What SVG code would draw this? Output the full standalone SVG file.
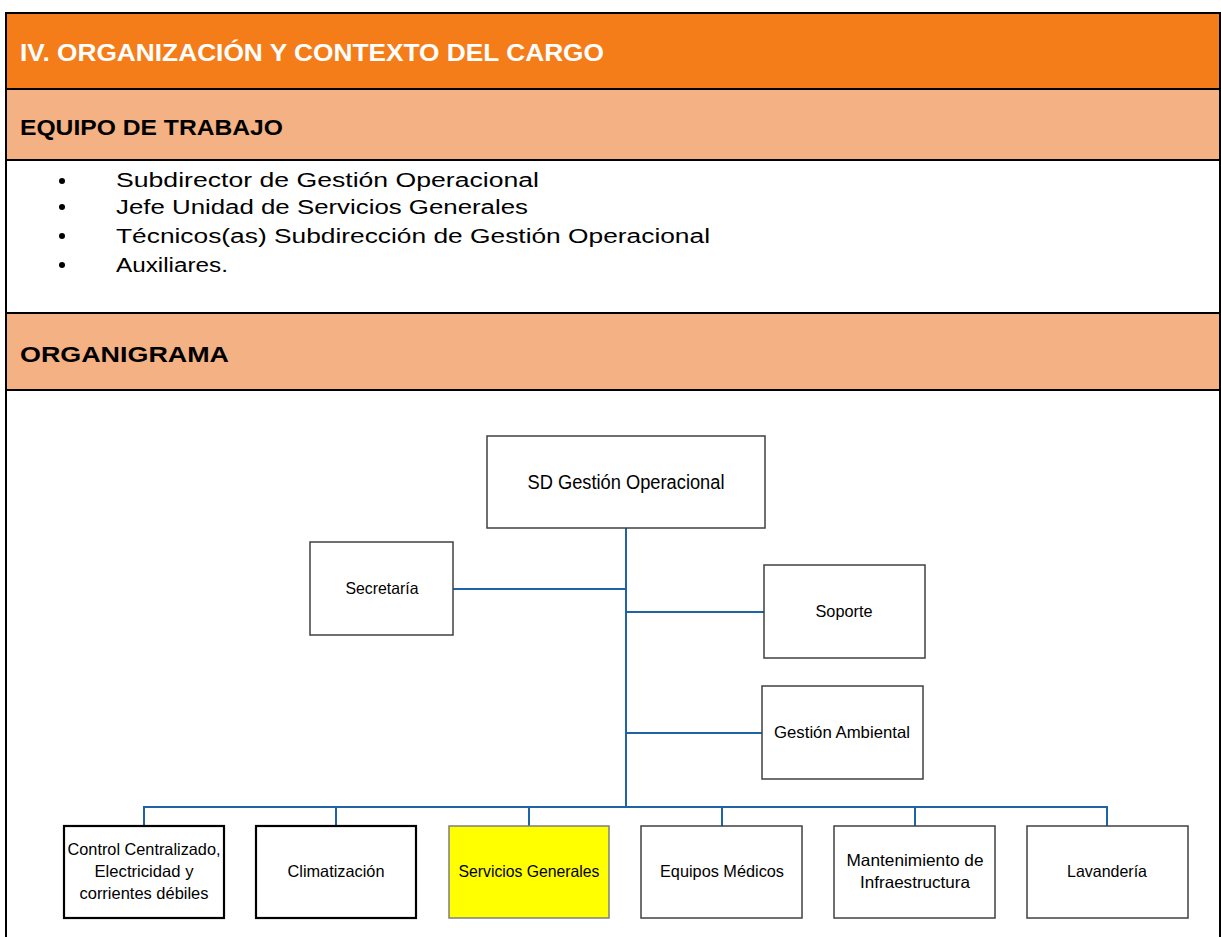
<svg xmlns="http://www.w3.org/2000/svg" width="1221" height="937" viewBox="0 0 1221 937">
<style>
.band1{fill:#F47D1A;}
.band2{fill:#F4B183;}
.sep{stroke:#000;stroke-width:2;}
.h1{font-family:"Liberation Sans",Arial,sans-serif;font-weight:bold;font-size:23px;fill:#fff;}
.h2{font-family:"Liberation Sans",Arial,sans-serif;font-weight:bold;font-size:22px;fill:#000;}
.li{font-family:"Liberation Sans",Arial,sans-serif;font-size:20px;fill:#000;}
.box{fill:#fff;stroke:#404040;stroke-width:1.5;}
.boxk{fill:#fff;stroke:#000;stroke-width:2.2;}
.boxy{fill:#FFFF00;stroke:#7f7f7f;stroke-width:1.5;}
.t{font-family:"Liberation Sans",Arial,sans-serif;font-size:16.5px;fill:#000;text-anchor:middle;}
.tb{font-family:"Liberation Sans",Arial,sans-serif;font-size:19.5px;fill:#000;text-anchor:middle;}
.conn{stroke:#1F62A6;stroke-width:2;fill:none;}
</style>
<rect x="0" y="0" width="1221" height="937" fill="#fff"/>
<g id="header">
<rect class="band1" x="6" y="13" width="1214" height="76"/>
<rect class="band2" x="6" y="89" width="1214" height="71"/>
<rect class="band2" x="6" y="313" width="1214" height="77"/>
<line class="sep" x1="5" y1="13" x2="1221" y2="13"/>
<line class="sep" x1="6" y1="89" x2="1220" y2="89"/>
<line class="sep" x1="6" y1="160" x2="1220" y2="160"/>
<line class="sep" x1="6" y1="313" x2="1220" y2="313"/>
<line class="sep" x1="6" y1="390" x2="1220" y2="390"/>
<line class="sep" x1="6" y1="12" x2="6" y2="937"/>
<line class="sep" x1="1220" y1="12" x2="1220" y2="937"/>
<text class="h1" x="20" y="61" textLength="584" lengthAdjust="spacingAndGlyphs">IV. ORGANIZACIÓN Y CONTEXTO DEL CARGO</text>
<text class="h2" x="20" y="135" textLength="263" lengthAdjust="spacingAndGlyphs">EQUIPO DE TRABAJO</text>
<text class="h2" x="20" y="362" textLength="209" lengthAdjust="spacingAndGlyphs">ORGANIGRAMA</text>
</g>
<g id="team-list">
<circle cx="62" cy="181" r="3"/>
<circle cx="62" cy="207" r="3"/>
<circle cx="62" cy="236" r="3"/>
<circle cx="62" cy="265" r="3"/>
<text class="li" x="116" y="187" textLength="423" lengthAdjust="spacingAndGlyphs">Subdirector de Gestión Operacional</text>
<text class="li" x="116" y="214" textLength="412" lengthAdjust="spacingAndGlyphs">Jefe Unidad de Servicios Generales</text>
<text class="li" x="116" y="243" textLength="594" lengthAdjust="spacingAndGlyphs">Técnicos(as) Subdirección de Gestión Operacional</text>
<text class="li" x="116" y="272" textLength="112" lengthAdjust="spacingAndGlyphs">Auxiliares.</text>
</g>
<g id="connectors">
<line class="conn" x1="626" y1="528" x2="626" y2="808"/>
<line class="conn" x1="453" y1="589" x2="626" y2="589"/>
<line class="conn" x1="626" y1="612" x2="764" y2="612"/>
<line class="conn" x1="626" y1="733" x2="762" y2="733"/>
<polyline class="conn" points="144,826 144,807 1107,807 1107,826"/>
<line class="conn" x1="336" y1="807" x2="336" y2="826"/>
<line class="conn" x1="529" y1="807" x2="529" y2="826"/>
<line class="conn" x1="722" y1="807" x2="722" y2="826"/>
<line class="conn" x1="915" y1="807" x2="915" y2="826"/>
</g>
<g id="node-sd">
<rect class="box" x="487" y="436" width="278" height="92"/>
<text class="tb" x="626" y="489" textLength="197" lengthAdjust="spacingAndGlyphs">SD Gestión Operacional</text>
</g>
<g id="node-secretaria">
<rect class="box" x="310" y="542" width="143" height="93"/>
<text class="t" x="382" y="594" textLength="73" lengthAdjust="spacingAndGlyphs">Secretaría</text>
</g>
<g id="node-soporte">
<rect class="box" x="764" y="565" width="161" height="93"/>
<text class="t" x="844" y="617" textLength="57" lengthAdjust="spacingAndGlyphs">Soporte</text>
</g>
<g id="node-ambiental">
<rect class="box" x="762" y="686" width="161" height="93"/>
<text class="t" x="842" y="738" textLength="136" lengthAdjust="spacingAndGlyphs">Gestión Ambiental</text>
</g>
<g id="node-control">
<rect class="boxk" x="64" y="826" width="160" height="92"/>
<text class="t" x="144" y="855" textLength="153" lengthAdjust="spacingAndGlyphs">Control Centralizado,</text>
<text class="t" x="144" y="877" textLength="99" lengthAdjust="spacingAndGlyphs">Electricidad y</text>
<text class="t" x="144" y="899" textLength="129" lengthAdjust="spacingAndGlyphs">corrientes débiles</text>
</g>
<g id="node-climatizacion">
<rect class="boxk" x="256" y="826" width="160" height="92"/>
<text class="t" x="336" y="877" textLength="97" lengthAdjust="spacingAndGlyphs">Climatización</text>
</g>
<g id="node-servicios">
<rect class="boxy" x="449" y="826" width="160" height="92"/>
<text class="t" x="529" y="877" textLength="141" lengthAdjust="spacingAndGlyphs">Servicios Generales</text>
</g>
<g id="node-equipos">
<rect class="box" x="641" y="826" width="161" height="92"/>
<text class="t" x="722" y="877" textLength="124" lengthAdjust="spacingAndGlyphs">Equipos Médicos</text>
</g>
<g id="node-mantenimiento">
<rect class="box" x="834" y="826" width="161" height="92"/>
<text class="t" x="915" y="866" textLength="137" lengthAdjust="spacingAndGlyphs">Mantenimiento de</text>
<text class="t" x="915" y="888" textLength="110" lengthAdjust="spacingAndGlyphs">Infraestructura</text>
</g>
<g id="node-lavanderia">
<rect class="box" x="1027" y="826" width="161" height="92"/>
<text class="t" x="1107" y="877" textLength="80" lengthAdjust="spacingAndGlyphs">Lavandería</text>
</g>
</svg>
